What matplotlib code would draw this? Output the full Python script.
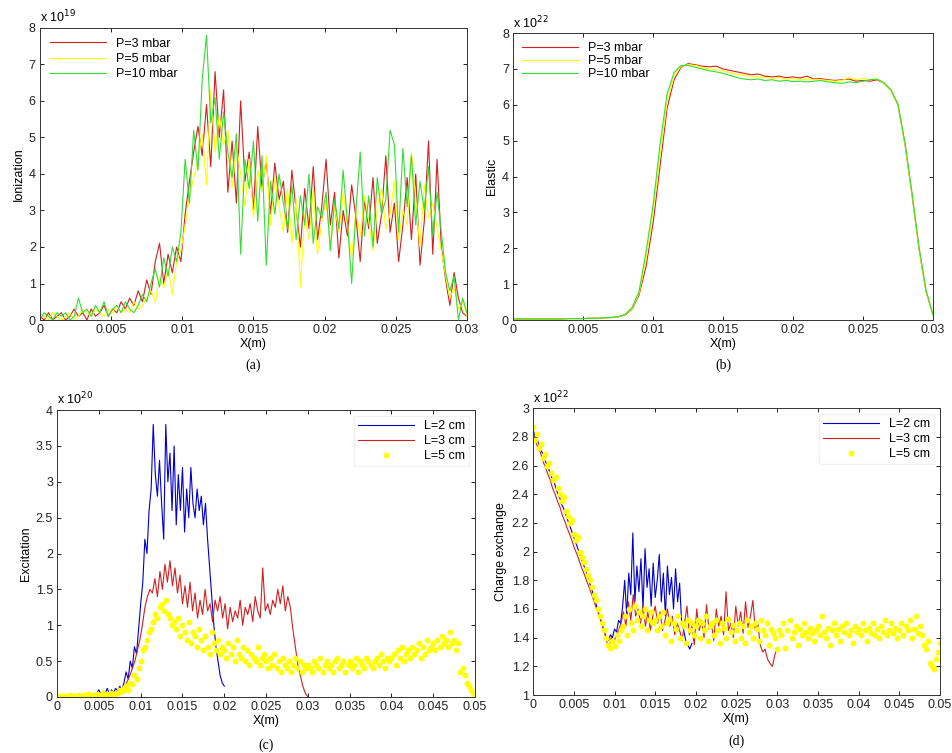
import numpy as np
import matplotlib
matplotlib.use('Agg')
import matplotlib.pyplot as plt

plt.rcParams['font.family'] = ['Liberation Sans', 'DejaVu Sans']
plt.rcParams['font.size'] = 9

# ========== (a) Ionization, x 1e19 ==========
ion_p3 = [0.1, 0.0, 0.2, 0.0, 0.1, 0.2, 0.0, 0.1, 0.3, 0.1, 0.2, 0.0, 0.3, 0.1, 0.2, 0.4, 0.1, 0.3, 0.2, 0.5, 0.3, 0.6, 0.4, 0.8,
          0.5, 1.1, 0.7, 1.6, 2.1, 1.0,
          1.8, 1.3, 2.0, 1.6,
          2.9, 3.8, 4.6, 5.3,
          4.5, 5.9, 4.2, 6.8, 5.0, 6.3,
          3.5, 4.9, 3.2, 6.0, 3.8, 4.6, 3.0, 5.3, 3.6, 4.4, 2.9, 4.3, 3.3, 3.8, 2.4, 4.1, 3.0,
          2.0, 3.6, 2.5, 4.2, 2.2, 3.1, 4.4, 2.6, 3.5, 1.7, 3.0, 2.3, 3.7, 2.8, 1.6, 3.3, 2.5, 3.9, 2.1, 2.9, 4.5,
          2.4, 3.2, 1.6, 2.6, 3.9, 2.2, 4.0, 1.5, 2.7, 4.9, 1.8, 4.4,
          2.0, 1.1, 0.4, 1.3, 0.6, 0.2, 0.1]
ion_p5 = [0.2, 0.1, 0.0, 0.2, 0.1, 0.0, 0.1, 0.2, 0.0, 0.1, 0.3, 0.2, 0.1, 0.3, 0.2, 0.1, 0.3, 0.2, 0.4, 0.2, 0.3, 0.2, 0.5, 0.3,
          0.4, 0.6, 0.8, 0.5, 1.2, 0.9,
          1.4, 0.7, 1.6, 1.9,
          2.6, 3.4, 3.9, 4.4,
          5.1, 3.7, 6.3, 4.6, 5.6, 4.8,
          5.2, 3.6, 4.8, 4.0, 3.1, 4.4, 2.8, 4.1, 3.5, 4.5, 2.6, 3.9, 3.1, 2.4, 3.6, 2.1, 3.3,
          0.9, 2.9, 2.2, 3.6, 1.8, 2.7, 3.3, 2.0, 3.1, 2.4, 3.5, 2.6, 1.7, 3.0, 2.3, 3.4, 2.7, 1.9, 3.1, 3.6, 2.5,
          2.9, 3.8, 2.2, 3.0, 2.6, 4.6, 3.3, 2.0, 3.7, 2.8, 3.2, 2.5,
          1.9, 1.2, 0.6, 0.9, 0.3, 0.5, 0.1]
ion_p10 = [0.0, 0.2, 0.1, 0.0, 0.2, 0.1, 0.2, 0.0, 0.1, 0.6, 0.2, 0.3, 0.1, 0.4, 0.2, 0.5, 0.1, 0.3, 0.4, 0.2, 0.5, 0.3, 0.2, 0.4,
           0.7, 0.5, 1.0, 1.4, 0.9, 1.7,
           1.2, 2.0, 1.6, 2.4,
           4.4, 3.2, 5.2, 4.1,
           6.6, 7.8, 5.4, 6.1, 4.4, 5.7,
           4.6, 3.9, 5.1, 1.8, 4.4, 3.6, 4.9, 2.7, 4.5, 1.5, 3.8, 2.9, 4.0, 3.2, 2.5, 3.7, 2.2,
           3.4, 2.6, 4.0, 2.1, 3.1, 2.8, 3.5, 1.9, 3.3, 2.5, 4.1, 2.7, 1.0, 3.0, 4.6, 2.3, 3.4, 2.0, 3.9, 2.9, 3.3,
           5.2, 4.8, 2.4, 4.7, 3.1, 4.5, 2.6, 3.8, 3.0, 4.2, 2.3, 3.5,
           2.4, 1.3, 0.8, 1.2, 0.0, 0.6, 0.2]
x_ion = np.linspace(0, 0.03, len(ion_p3))

# ========== (b) Elastic, x 1e22 ==========
el_p3 = [0.03, 0.03, 0.03, 0.03, 0.03, 0.03, 0.03, 0.03, 0.04, 0.04, 0.04, 0.05, 0.05, 0.06, 0.07, 0.09,
         0.14, 0.3, 0.7, 1.5, 2.7, 4.3, 5.9, 6.7, 7.05, 7.15, 7.12, 7.08, 7.06, 7.08, 7.0, 6.96, 6.92, 6.88,
         6.84, 6.86, 6.8, 6.78, 6.8, 6.76, 6.78, 6.75, 6.8, 6.72, 6.73, 6.7, 6.68, 6.7, 6.72, 6.66, 6.68,
         6.66, 6.7, 6.6, 6.4, 6.0, 4.9, 3.5, 2.0, 0.8, 0.15]
el_p5 = [0.03, 0.03, 0.03, 0.03, 0.03, 0.03, 0.03, 0.03, 0.04, 0.04, 0.04, 0.05, 0.05, 0.06, 0.07, 0.09,
         0.15, 0.32, 0.75, 1.7, 3.0, 4.6, 6.1, 6.8, 7.08, 7.12, 7.1, 7.05, 7.0, 6.98, 6.95, 6.9, 6.85, 6.82,
         6.8, 6.78, 6.76, 6.74, 6.76, 6.72, 6.74, 6.7, 6.72, 6.7, 6.7, 6.68, 6.66, 6.68, 6.76, 6.7, 6.74,
         6.7, 6.72, 6.6, 6.4, 6.0, 4.9, 3.5, 2.0, 0.8, 0.15]
el_p10 = [0.03, 0.03, 0.03, 0.03, 0.03, 0.03, 0.03, 0.03, 0.04, 0.04, 0.04, 0.05, 0.05, 0.06, 0.07, 0.09,
          0.16, 0.35, 0.8, 1.9, 3.2, 4.9, 6.3, 6.9, 7.1, 7.1, 7.05, 7.0, 6.95, 6.92, 6.88, 6.82, 6.76, 6.72,
          6.7, 6.72, 6.68, 6.7, 6.66, 6.68, 6.65, 6.66, 6.64, 6.66, 6.68, 6.64, 6.62, 6.6, 6.64, 6.62, 6.66,
          6.7, 6.72, 6.62, 6.42, 6.02, 4.95, 3.55, 2.05, 0.85, 0.15]
x_el = np.linspace(0, 0.03, len(el_p3))

# ========== (c) Excitation, x 1e20 ==========
exc_l2 = [0.0, 0.01, 0.0, 0.02, 0.01, 0.0, 0.02, 0.01, 0.03, 0.02, 0.01, 0.03, 0.02, 0.04, 0.02, 0.03, 0.05, 0.03, 0.04, 0.06,
          0.1, 0.03, 0.08, 0.05, 0.12, 0.04, 0.1, 0.06, 0.12, 0.08, 0.15, 0.1,
          0.2, 0.35, 0.25, 0.5, 0.4, 0.7, 0.6, 0.95,
          1.3, 1.6, 2.2, 2.0, 2.6, 2.9, 3.8, 3.1,
          2.8, 3.3, 2.7, 2.2, 3.8, 3.0, 3.4, 2.6,
          3.5, 2.4, 3.1, 2.6, 3.2, 2.3, 2.9, 2.5,
          3.2, 2.7, 2.5, 2.9, 2.6, 2.8, 2.4, 2.7,
          2.2, 1.8, 1.4, 1.0, 0.7, 0.5, 0.3, 0.2, 0.15]
x_exc_l2 = np.linspace(0, 0.02, len(exc_l2))
exc_l3 = [0.0, 0.01, 0.0, 0.02, 0.0, 0.01, 0.02, 0.0, 0.01, 0.02, 0.01, 0.03, 0.02, 0.01, 0.03, 0.02, 0.04, 0.03, 0.02, 0.05,
          0.03, 0.06, 0.04, 0.07, 0.05, 0.08,
          0.1, 0.15, 0.22, 0.3, 0.4, 0.5, 0.65,
          0.8, 1.0, 1.25, 1.4, 1.5,
          1.45, 1.65, 1.4, 1.75, 1.5, 1.85, 1.6, 1.9,
          1.55, 1.8, 1.45, 1.7, 1.3, 1.55, 1.25, 1.6, 1.2, 1.45,
          1.1, 1.35, 1.15, 1.5, 1.2, 1.3, 1.05, 1.35, 1.2, 1.4,
          1.1, 1.3, 0.95, 1.25, 1.05, 1.2, 1.1, 1.35, 1.0, 1.25,
          1.15, 1.3, 1.05, 1.4, 1.2, 1.1, 1.8, 1.2, 1.3, 1.15,
          1.35, 1.25, 1.5, 1.3, 1.55, 1.2, 1.4, 1.25,
          0.95, 0.7, 0.45, 0.3, 0.15, 0.05, 0.0]
x_exc_l3 = np.linspace(0, 0.03, len(exc_l3))
exc_l5 = [0.0, 0.01, 0.02, 0.0, 0.01, 0.02, 0.03, 0.01, 0.02, 0.0, 0.03, 0.02, 0.01, 0.03, 0.02, 0.04, 0.01, 0.03, 0.02, 0.04,
          0.02, 0.03, 0.05, 0.02, 0.04, 0.03, 0.05, 0.04,
          0.06, 0.05, 0.1, 0.08, 0.12, 0.15, 0.1, 0.2, 0.18, 0.3, 0.25, 0.4,
          0.5, 0.65, 0.7, 0.8, 0.9, 0.95, 1.05, 1.15,
          1.1, 1.25, 1.3, 1.2, 1.35, 1.15, 1.1, 1.0,
          1.05, 0.95, 1.1, 0.85, 1.0, 0.9, 0.8, 1.05,
          0.75, 0.9, 0.85, 0.7, 0.95, 0.8, 0.65, 0.85, 0.7, 0.6, 0.9, 0.75, 0.65, 0.8, 0.6, 0.7,
          0.65, 0.55, 0.75, 0.6, 0.7, 0.5, 0.8, 0.6, 0.55, 0.7, 0.5, 0.65, 0.45, 0.6, 0.55, 0.5, 0.7, 0.45, 0.55, 0.6,
          0.5, 0.4, 0.55, 0.45, 0.6, 0.4, 0.5, 0.35, 0.55, 0.45, 0.4, 0.5, 0.35, 0.45, 0.55, 0.4, 0.5, 0.35, 0.45, 0.4,
          0.45, 0.4, 0.35, 0.5, 0.45, 0.4, 0.55, 0.35, 0.45, 0.5, 0.4, 0.45, 0.35, 0.5, 0.55, 0.4, 0.45, 0.5, 0.35, 0.45,
          0.5, 0.4, 0.45, 0.55, 0.35, 0.5, 0.45, 0.4, 0.55, 0.5, 0.45, 0.4, 0.5, 0.55, 0.45, 0.6, 0.5, 0.4, 0.55, 0.5,
          0.55, 0.6, 0.45, 0.65, 0.55, 0.7, 0.5, 0.6, 0.65, 0.55, 0.7, 0.6, 0.65, 0.75, 0.55, 0.7, 0.6, 0.8, 0.65, 0.7,
          0.75, 0.65, 0.8, 0.7, 0.85, 0.75, 0.8, 0.7, 0.9, 0.75, 0.8, 0.65, 0.75,
          0.35, 0.4, 0.3, 0.2, 0.15, 0.1, 0.05, 0.02]
x_exc_l5 = np.linspace(0, 0.05, len(exc_l5))

# ========== (d) Charge exchange, x 1e22 ==========
cx_l2 = [2.85, 2.8, 2.78, 2.74, 2.7, 2.68, 2.63, 2.6, 2.56, 2.52, 2.5, 2.45, 2.41, 2.38, 2.33, 2.3, 2.26, 2.22,
         2.18, 2.14, 2.1, 2.06, 2.02, 1.98, 1.94, 1.9, 1.86, 1.82, 1.77, 1.73, 1.68, 1.63, 1.58, 1.53, 1.48, 1.44,
         1.4, 1.38, 1.42, 1.4, 1.46, 1.44, 1.52, 1.5,
         1.62, 1.8, 1.55, 1.85, 1.7, 2.13, 1.65, 1.9,
         1.72, 1.95, 1.6, 2.02, 1.75, 1.88, 1.62, 1.92,
         1.68, 1.8, 1.98, 1.65, 1.85, 1.55, 1.9, 1.7,
         1.82, 1.6, 1.88, 1.65, 1.78,
         1.5, 1.45, 1.38, 1.35, 1.32, 1.36]
x_cx_l2 = np.linspace(0, 0.0195, len(cx_l2))
cx_l3 = [2.82, 2.77, 2.72, 2.69, 2.63, 2.59, 2.54, 2.5, 2.44, 2.4, 2.35, 2.31, 2.25, 2.21, 2.16, 2.12, 2.07, 2.02,
         1.98, 1.93, 1.88, 1.84, 1.79, 1.75, 1.7, 1.65, 1.6, 1.56, 1.51, 1.46,
         1.38, 1.33, 1.4, 1.36, 1.42, 1.45,
         1.5, 1.58, 1.48, 1.65, 1.52, 1.7, 1.55, 1.6, 1.5, 1.62,
         1.48, 1.58, 1.45, 1.55, 1.62, 1.5, 1.58, 1.45, 1.52, 1.6, 1.48, 1.55, 1.42, 1.5, 1.45,
         1.38, 1.5, 1.62, 1.42, 1.48, 1.35, 1.6, 1.45, 1.52, 1.4, 1.63, 1.46, 1.5, 1.38, 1.6, 1.48, 1.55, 1.42,
         1.72, 1.45, 1.5, 1.4, 1.62, 1.48, 1.58, 1.43, 1.65, 1.47, 1.55, 1.66, 1.45,
         1.5, 1.35, 1.3, 1.32, 1.25, 1.22, 1.2, 1.28, 1.33]
x_cx_l3 = np.linspace(0, 0.03, len(cx_l3))
cx_l5 = [2.87, 2.78, 2.82, 2.72, 2.75, 2.65, 2.68, 2.6, 2.62, 2.55, 2.5, 2.52, 2.44, 2.4, 2.35, 2.38, 2.28, 2.25,
         2.2, 2.22, 2.12, 2.08, 2.1, 2.0, 1.96, 1.93, 1.88, 1.84, 1.8, 1.75, 1.7, 1.66, 1.6, 1.55, 1.5, 1.45,
         1.4, 1.35, 1.33, 1.38, 1.34, 1.42, 1.38, 1.45,
         1.48, 1.55, 1.42, 1.6, 1.5, 1.45, 1.62, 1.52, 1.58, 1.48, 1.55, 1.6, 1.45, 1.52, 1.58, 1.5,
         1.52, 1.45, 1.55, 1.48, 1.58, 1.42, 1.5, 1.53, 1.38, 1.5, 1.46, 1.55, 1.4, 1.5, 1.48, 1.36, 1.52, 1.45, 1.5, 1.42,
         1.48, 1.52, 1.4, 1.5, 1.45, 1.55, 1.38, 1.48, 1.5, 1.42, 1.52, 1.45, 1.36, 1.5, 1.47, 1.4, 1.53, 1.44, 1.49, 1.38,
         1.45, 1.5, 1.4, 1.48, 1.36, 1.52, 1.44, 1.48, 1.4, 1.5, 1.46, 1.38, 1.52, 1.45, 1.42, 1.5, 1.35, 1.46, 1.43, 1.4,
         1.32, 1.45, 1.42, 1.5, 1.33, 1.45, 1.52, 1.4, 1.44, 1.48, 1.35, 1.46, 1.42, 1.5, 1.44, 1.4, 1.47, 1.43, 1.38, 1.45,
         1.48, 1.42, 1.55, 1.44, 1.4, 1.47, 1.35, 1.45, 1.5, 1.42, 1.46, 1.38, 1.48, 1.44, 1.5, 1.42, 1.45, 1.36, 1.48, 1.44,
         1.46, 1.42, 1.5, 1.45, 1.38, 1.47, 1.43, 1.5, 1.42, 1.46, 1.4, 1.48, 1.44, 1.52, 1.42, 1.45, 1.5, 1.43, 1.47, 1.4,
         1.45, 1.5, 1.42, 1.48, 1.45, 1.52, 1.4, 1.46, 1.55, 1.43, 1.48, 1.42,
         1.35, 1.32, 1.38, 1.22, 1.2, 1.18, 1.25, 1.3, 1.36]
x_cx_l5 = np.linspace(0, 0.05, len(cx_l5))

p_labels = ['P=3 mbar', 'P=5 mbar', 'P=10 mbar']
l_labels = ['L=2 cm', 'L=3 cm', 'L=5 cm']

RED = '#d02020'
YEL = '#ffff00'
GRN = '#33dd33'
BLUE = '#0000cc'


def style_axes(ax, xmax, xstep, ylim, ystep, exp, ylabel, letter, letter_y):
    xt = np.arange(0, xmax + xstep / 2, xstep)
    yt = np.arange(ylim[0], ylim[1] + ystep / 2, ystep)
    ax.set_xlim(0, xmax)
    ax.set_ylim(*ylim)
    ax.set_xticks(xt)
    ax.set_xticklabels([f'{v:g}' for v in xt])
    ax.set_yticks(yt)
    ax.set_yticklabels([f'{v:g}' for v in yt])
    ax.tick_params(direction='in', top=True, right=True, length=3, width=0.6,
                   labelsize=9, pad=3, labelcolor='#222222')
    for s in ax.spines.values():
        s.set_linewidth(0.7)
        s.set_color('#333333')
    ax.set_xlabel('X(m)', fontsize=9, labelpad=1)
    ax.set_ylabel(ylabel, fontsize=9, labelpad=3)
    ax.text(0.0, 1.008, r'x 10$^{%d}$' % exp, transform=ax.transAxes, fontsize=9, ha='left', va='bottom')
    ax.text(0.5, letter_y, letter, transform=ax.transAxes, ha='center', va='center',
            fontsize=10, family='Liberation Serif')


fig = plt.figure(figsize=(9.52, 7.53), dpi=100)

# (a)
ax = fig.add_axes([0.042, 0.575, 0.4485, 0.388])
ax.plot(x_ion, ion_p3, color=RED, lw=0.8, label=p_labels[0])
ax.plot(x_ion, ion_p5, color=YEL, lw=0.8, label=p_labels[1])
ax.plot(x_ion, ion_p10, color=GRN, lw=0.8, label=p_labels[2])
style_axes(ax, 0.03, 0.005, (0, 8), 1, 19, 'Ionization', '(a)', -0.155)
ax.legend(loc='upper left', fontsize=9, frameon=True, fancybox=False, handlelength=4.5,
          borderpad=0.3, labelspacing=0.25, edgecolor='white')

# (b)
ax = fig.add_axes([0.539, 0.575, 0.441, 0.381])
ax.plot(x_el, el_p3, color=RED, lw=0.8, label=p_labels[0])
ax.plot(x_el, el_p5, color=YEL, lw=0.8, label=p_labels[1])
ax.plot(x_el, el_p10, color=GRN, lw=0.8, label=p_labels[2])
style_axes(ax, 0.03, 0.005, (0, 8), 1, 22, 'Elastic', '(b)', -0.158)
ax.legend(loc='upper left', fontsize=9, frameon=True, fancybox=False, handlelength=4.5,
          borderpad=0.2, labelspacing=0.1, edgecolor='white')

# (c)
ax = fig.add_axes([0.060, 0.0744, 0.439, 0.381])
ax.plot(x_exc_l2, exc_l2, color=BLUE, lw=0.8, label=l_labels[0])
ax.plot(x_exc_l3, exc_l3, color=RED, lw=0.8, label=l_labels[1])
ax.plot(x_exc_l5, exc_l5, ls='none', marker='o', ms=3.2, mfc=YEL, mec=YEL, label=l_labels[2])
style_axes(ax, 0.05, 0.005, (0, 4), 0.5, 20, 'Excitation', '(c)', -0.167)
ax.legend(loc='upper right', fontsize=9, frameon=True, fancybox=False, handlelength=4.5,
          borderpad=0.3, labelspacing=0.25, edgecolor='#eeeeee')

# (d)
ax = fig.add_axes([0.560, 0.077, 0.4275, 0.381])
ax.plot(x_cx_l2, cx_l2, color=BLUE, lw=0.8, label=l_labels[0])
ax.plot(x_cx_l3, cx_l3, color=RED, lw=0.8, label=l_labels[1])
ax.plot(x_cx_l5, cx_l5, ls='none', marker='o', ms=3.2, mfc=YEL, mec=YEL, label=l_labels[2])
style_axes(ax, 0.05, 0.005, (1, 3), 0.2, 22, 'Charge exchange', '(d)', -0.16)
ax.legend(loc='upper right', fontsize=9, frameon=True, fancybox=False, handlelength=4.5,
          borderpad=0.3, labelspacing=0.25, edgecolor='#eeeeee')

fig.savefig('out.png', dpi=100)
